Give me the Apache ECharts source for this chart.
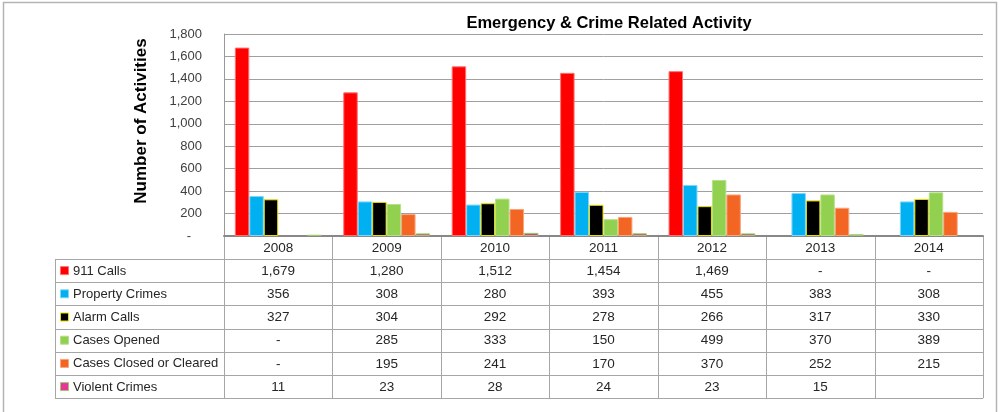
<!DOCTYPE html>
<html><head><meta charset="utf-8">
<script src="https://cdn.jsdelivr.net/npm/echarts@6/dist/echarts.min.js"></script>
<style>html,body{margin:0;padding:0;background:#fff}#c{width:999px;height:412px}</style>
</head><body><div id="c"></div>
<script>
const years = ['2008','2009','2010','2011','2012','2013','2014'];
const calls911 = [1679,1280,1512,1454,1469,0,0];
const propertyCrimes = [356,308,280,393,455,383,308];
const alarmCalls = [327,304,292,278,266,317,330];
const casesOpened = [0,285,333,150,499,370,389];
const casesClosed = [0,195,241,170,370,252,215];
const violentCrimes = [11,23,28,24,23,15,null];
const seriesNames = ['911 Calls','Property Crimes','Alarm Calls','Cases Opened','Cases Closed or Cleared','Violent Crimes'];
const seriesData = [calls911, propertyCrimes, alarmCalls, casesOpened, casesClosed, violentCrimes];
const fills = ['#FF0000','#00B0F0','#000000','#92D050','#F26522','#E8359A'];
const borders = ['#FF7070','#7FD6F7','#E6E000','#B5E08A','#F7A57A','#9CC86A'];
const yMax = 1800, yStep = 200;
const yTitle = 'Number of Activities';

const FONT = 'Liberation Sans, Arial, sans-serif';
const chart = echarts.init(document.getElementById('c'), null, {renderer:'canvas'});
const fmt = v => (v === null || v === undefined) ? '' : (v === 0 ? '-' : v.toLocaleString('en-US'));

chart.setOption({
  animation:false,
  backgroundColor:'#fff',
  title:{text:'Emergency & Crime Related Activity', left:604, top:10, textAlign:'center',
    textStyle:{fontFamily:FONT, fontSize:16.5, fontWeight:'bold', color:'#000'}},
  grid:{left:224, right:16, top:34, bottom:176, containLabel:false},
  xAxis:{type:'category', data:years,
    axisLine:{show:true, lineStyle:{color:'#888', width:2}},
    axisTick:{show:false}, axisLabel:{show:false}, splitLine:{show:false}},
  yAxis:{type:'value', min:0, max:yMax, interval:yStep,
    axisLine:{show:true, lineStyle:{color:'#999', width:1}},
    axisTick:{show:false},
    axisLabel:{margin:22, fontFamily:FONT, fontSize:13, color:'#404040',
      formatter:v => v === 0 ? '-   ' : v.toLocaleString('en-US')},
    splitLine:{lineStyle:{color:'#a0a0a0', width:1}}},
  series: seriesNames.map((n,i)=>({
    name:n, type:'bar', barGap:'0%', barCategoryGap:'20%',
    data: seriesData[i].map(v => (v === 0 || v === null) ? '-' : v),
    itemStyle:{color:fills[i], borderColor:borders[i], borderWidth:1}
  }))
});

function buildTable(){
  const x0 = chart.convertToPixel({xAxisIndex:0}, 0);
  const x1 = chart.convertToPixel({xAxisIndex:0}, 1);
  const cw = x1 - x0;
  const gLeft = x0 - cw/2;
  const gRight = gLeft + cw*years.length;
  const base = chart.convertToPixel({yAxisIndex:0}, 0);
  const headH = 23, rowH = 23.2, tableLeft = 55;
  const g = [];
  const lineC = '#a6a6a6';
  g.push({type:'rect', shape:{x:3.5, y:2.5, width:993, height:430}, style:{fill:null, stroke:'#b4b4b4', lineWidth:1.5}, z:0});
  g.push({type:'text', x:141, y:121, rotation:Math.PI/2, style:{text:yTitle, fontFamily:FONT, fontSize:17, fontWeight:'bold', fill:'#000', textAlign:'center', textVerticalAlign:'middle'}});
  const tBottom = base + headH + rowH*seriesNames.length;
  for (let k=0;k<=years.length;k++){
    const x = Math.round(gLeft + cw*k) + 0.5;
    g.push({type:'line', shape:{x1:x, y1:base, x2:x, y2:tBottom}, style:{stroke:lineC, lineWidth:1}});
  }
  g.push({type:'line', shape:{x1:tableLeft+0.5, y1:base+headH, x2:tableLeft+0.5, y2:tBottom}, style:{stroke:lineC, lineWidth:1}});
  for (let r=0;r<=seriesNames.length;r++){
    const y = Math.round(base + headH + rowH*r) + 0.5;
    g.push({type:'line', shape:{x1:tableLeft, y1:y, x2:gRight, y2:y}, style:{stroke:lineC, lineWidth:1}});
  }
  years.forEach((yr,k)=>{
    g.push({type:'text', x:gLeft+cw*(k+0.5), y:base+headH/2+0.5, style:{text:yr, fontFamily:FONT, fontSize:13.5, fill:'#262626', textAlign:'center', textVerticalAlign:'middle'}});
  });
  seriesNames.forEach((n,i)=>{
    const cy = base + headH + rowH*(i+0.5) + 0.5;
    g.push({type:'rect', shape:{x:60.5, y:cy-4.5, width:8, height:8}, style:{fill:fills[i], stroke:borders[i], lineWidth:1}});
    g.push({type:'text', x:73, y:cy, style:{text:n, fontFamily:FONT, fontSize:13, fill:'#262626', textAlign:'left', textVerticalAlign:'middle'}});
    seriesData[i].forEach((v,k)=>{
      g.push({type:'text', x:gLeft+cw*(k+0.5), y:cy, style:{text:fmt(v), fontFamily:FONT, fontSize:13.5, fill:'#262626', textAlign:'center', textVerticalAlign:'middle'}});
    });
  });
  chart.setOption({graphic:g});
}
buildTable();
</script></body></html>
